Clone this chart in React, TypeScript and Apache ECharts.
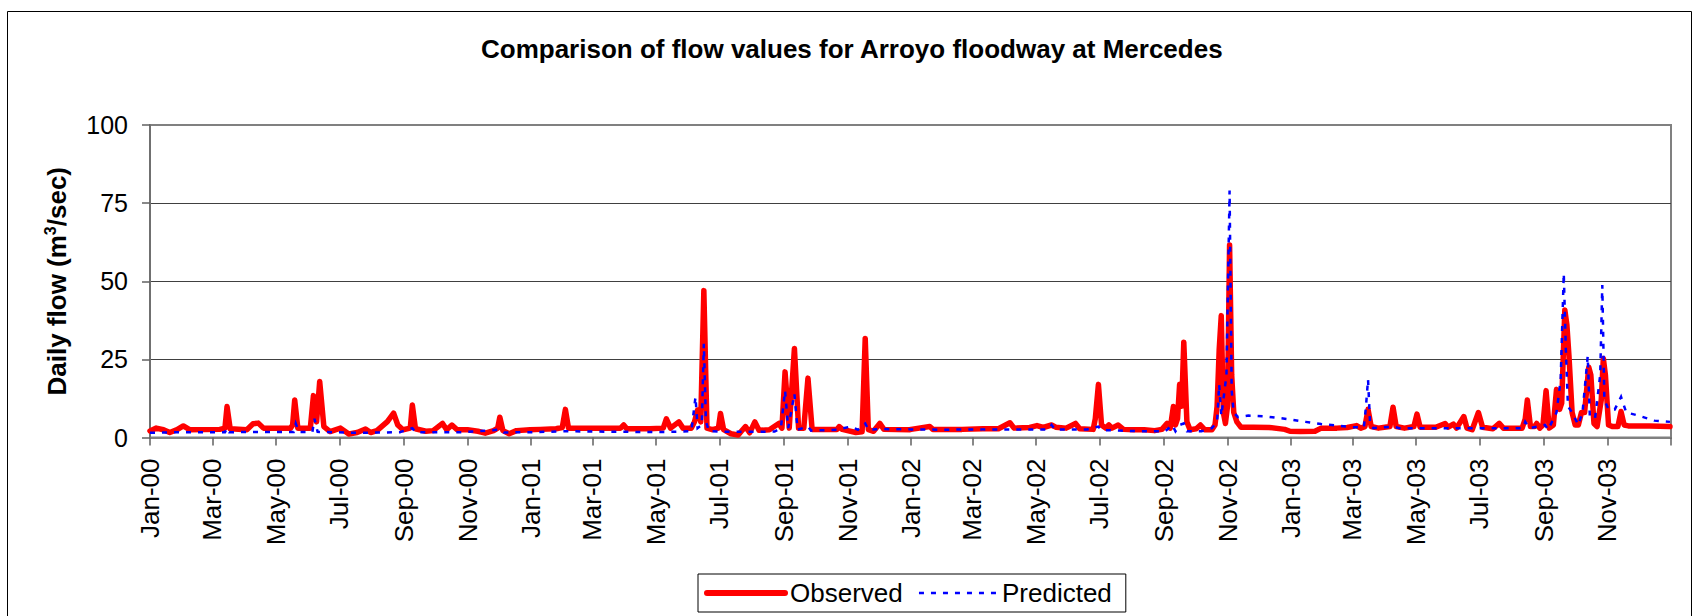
import React, { useEffect, useRef } from "react";
import * as echarts from "echarts";

// ---- Data ----
const TITLE = "Comparison of flow values for Arroyo floodway at Mercedes";
const SERIES_NAMES = ["Observed", "Predicted"];
const MONTHS = ["Jan", "Feb", "Mar", "Apr", "May", "Jun", "Jul", "Aug", "Sep", "Oct", "Nov", "Dec"];
const Y_TICKS = [0, 25, 50, 75, 100];

// Observed daily flow, [MM-DD, m3/s]
const obs2000: [string, number][] = [
  ["01-01", 2.1], ["01-07", 3], ["01-14", 2.5], ["01-20", 1.6], ["01-27", 2.5], ["02-02", 3.7], ["02-08", 2.5],
  ["03-08", 2.6], ["03-13", 3], ["03-15", 9.9], ["03-18", 2.8], ["04-03", 2.5], ["04-09", 4.4], ["04-14", 4.6],
  ["04-19", 3], ["05-15", 3], ["05-17", 4], ["05-19", 12], ["05-22", 3], ["06-03", 3], ["06-06", 13.4],
  ["06-09", 5], ["06-12", 17.9], ["06-16", 3.5], ["06-22", 1.9], ["07-02", 3], ["07-10", 1.1], ["07-18", 1.6],
  ["07-26", 2.7], ["07-31", 1.6], ["08-06", 2.2], ["08-16", 5.1], ["08-22", 7.8], ["08-26", 4], ["08-31", 2.5],
  ["09-07", 3], ["09-09", 10.4], ["09-12", 2.8], ["09-22", 2], ["09-29", 2.2], ["10-08", 4.5], ["10-12", 2.5],
  ["10-17", 4], ["10-22", 2.5], ["11-01", 2.5], ["11-11", 2], ["11-18", 1.4], ["11-26", 2.2], ["11-30", 3],
  ["12-02", 6.5], ["12-05", 2.2], ["12-11", 1.2], ["12-18", 2.2], ["12-31", 2.5],
];
const obs2001: [string, number][] = [
  ["01-10", 2.6], ["01-25", 2.8], ["01-31", 3.2], ["02-03", 9], ["02-06", 3], ["02-24", 3], ["03-16", 3],
  ["03-28", 3], ["03-31", 4], ["04-03", 2.8], ["04-25", 2.8], ["05-08", 3], ["05-11", 6], ["05-15", 3],
  ["05-23", 5], ["05-27", 3], ["06-04", 3], ["06-07", 5], ["06-10", 8.8], ["06-13", 5], ["06-16", 47],
  ["06-19", 3], ["06-24", 2.5], ["06-30", 3], ["07-02", 7.7], ["07-05", 2.5], ["07-12", 1.2], ["07-19", 0.8],
  ["07-22", 2], ["07-26", 3.5], ["07-30", 1.5], ["08-04", 5], ["08-08", 2.3], ["08-18", 2.5], ["08-27", 4.5],
  ["08-30", 3], ["09-02", 21], ["09-06", 3], ["09-11", 28.5], ["09-15", 3], ["09-20", 3], ["09-24", 19],
  ["09-28", 2.6], ["10-22", 2.6], ["10-24", 3.5], ["10-27", 2.6], ["11-09", 1.6], ["11-15", 1.8], ["11-18", 31.7],
  ["11-21", 2.5], ["11-26", 2], ["12-02", 4.5], ["12-06", 2.6], ["12-31", 2.5],
];
const obs2002: [string, number][] = [
  ["01-01", 2.6], ["01-19", 3.5], ["01-22", 2.6], ["02-19", 2.6], ["03-11", 2.8], ["03-26", 2.8], ["04-06", 4.7],
  ["04-10", 3], ["04-25", 3.2], ["05-02", 3.8], ["05-08", 3.2], ["05-16", 4], ["05-20", 3.3], ["05-30", 3],
  ["06-08", 4.5], ["06-12", 2.8], ["06-25", 2.6], ["06-27", 6], ["06-30", 17], ["07-03", 4], ["07-07", 3],
  ["07-10", 4], ["07-13", 3], ["07-19", 4], ["07-24", 2.6], ["08-03", 2.5], ["08-13", 2.5], ["08-23", 2.2],
  ["08-30", 2.6], ["09-04", 4.5], ["09-07", 3], ["09-10", 9.9], ["09-12", 4], ["09-14", 6], ["09-16", 17],
  ["09-18", 10], ["09-20", 30.5], ["09-23", 5], ["09-26", 2.5], ["10-02", 2.8], ["10-06", 4], ["10-10", 2.5],
  ["10-17", 2.5], ["10-20", 4], ["10-22", 10], ["10-24", 28], ["10-26", 39], ["10-28", 8], ["10-30", 4.5],
  ["11-01", 10], ["11-03", 61.6], ["11-05", 20], ["11-07", 8], ["11-10", 5], ["11-14", 3.3], ["11-26", 3.3],
  ["12-11", 3.2], ["12-26", 2.6], ["12-31", 2],
];
const obs2003: [string, number][] = [
  ["01-10", 1.9], ["01-24", 2], ["01-30", 3], ["02-14", 3], ["02-24", 3.2], ["03-05", 3.8], ["03-09", 3],
  ["03-13", 3.5], ["03-16", 9], ["03-19", 3.5], ["03-26", 3], ["04-06", 3.5], ["04-09", 9.7], ["04-12", 3.5],
  ["04-20", 3], ["04-29", 3.5], ["05-02", 7.5], ["05-05", 3.3], ["05-20", 3.3], ["05-29", 4.5], ["06-01", 3.3],
  ["06-06", 4.3], ["06-09", 3], ["06-16", 6.7], ["06-19", 3], ["06-24", 2.5], ["06-30", 8], ["07-04", 3.3],
  ["07-14", 2.8], ["07-20", 4.5], ["07-24", 3], ["08-03", 3], ["08-11", 3], ["08-14", 6], ["08-16", 12],
  ["08-19", 3.5], ["08-23", 3.5], ["08-25", 4.5], ["08-28", 3], ["08-31", 4], ["09-03", 15], ["09-06", 3],
  ["09-10", 4], ["09-13", 15.4], ["09-16", 9], ["09-18", 11], ["09-21", 40.8], ["09-23", 36], ["09-25", 26],
  ["09-28", 8], ["10-01", 4], ["10-04", 4], ["10-07", 8], ["10-10", 8], ["10-14", 22.5], ["10-16", 20],
  ["10-19", 4.5], ["10-22", 3.5], ["10-26", 12], ["10-28", 25.3], ["10-30", 20], ["11-02", 4], ["11-06", 3.5],
  ["11-11", 3.5], ["11-14", 8.3], ["11-17", 4], ["11-21", 3.7], ["12-11", 3.7], ["12-31", 3.5],
];

// Predicted daily flow, [MM-DD, m3/s]
const pred2000: [string, number][] = [
  ["01-01", 1.5], ["01-31", 1.7], ["03-13", 1.7], ["03-15", 3], ["03-17", 1.7], ["04-30", 1.8], ["05-18", 1.8],
  ["05-20", 4.5], ["05-23", 1.8], ["06-05", 1.8], ["06-07", 6], ["06-10", 1.8], ["07-19", 1.5], ["08-28", 1.7],
  ["09-09", 3], ["09-12", 1.7], ["10-27", 1.7], ["12-02", 2.5], ["12-06", 1.6], ["12-31", 1.7],
];
const pred2001: [string, number][] = [
  ["02-04", 2], ["04-05", 1.8], ["05-15", 1.8], ["06-04", 2], ["06-08", 13], ["06-10", 3], ["06-14", 4],
  ["06-16", 30], ["06-18", 5], ["06-21", 2], ["07-14", 1.8], ["08-23", 1.9], ["08-29", 3], ["09-02", 15],
  ["09-05", 3], ["09-11", 14], ["09-14", 2.5], ["09-24", 3.5], ["09-27", 2.2], ["10-22", 2.5], ["11-04", 3.5],
  ["11-11", 2.5], ["11-18", 4.5], ["11-21", 2.5], ["12-01", 2.7], ["12-31", 2.6],
];
const pred2002: [string, number][] = [
  ["01-01", 2.6], ["01-30", 2.5], ["03-11", 2.6], ["05-13", 2.6], ["05-16", 4], ["05-19", 2.6], ["06-19", 2.6],
  ["06-30", 3.5], ["07-03", 2.4], ["08-08", 2], ["09-02", 2], ["09-09", 4], ["09-12", 2], ["09-16", 4],
  ["09-20", 4.5], ["09-23", 2], ["10-07", 2], ["10-17", 3], ["10-22", 5], ["10-24", 17], ["10-26", 7],
  ["10-28", 12], ["10-31", 20], ["11-03", 79], ["11-05", 15], ["11-07", 8], ["11-11", 6.5], ["11-21", 7],
  ["12-06", 6.8], ["12-21", 6.2], ["12-31", 5.8],
];
const pred2003: [string, number][] = [
  ["01-15", 5], ["01-30", 4.3], ["02-14", 3.8], ["03-01", 3.3], ["03-12", 3.2], ["03-14", 10], ["03-16", 18.6],
  ["03-18", 4], ["03-21", 3], ["04-09", 3.5], ["04-15", 3], ["06-04", 3], ["07-04", 3], ["08-12", 3],
  ["08-14", 5], ["08-18", 3], ["09-02", 4], ["09-05", 2.5], ["09-13", 8], ["09-17", 18.4], ["09-20", 52.5],
  ["09-22", 28], ["09-24", 10], ["09-28", 8], ["10-04", 4], ["10-08", 8], ["10-13", 26], ["10-15", 7],
  ["10-20", 6], ["10-25", 20], ["10-27", 48.8], ["10-29", 12], ["11-02", 9], ["11-08", 9], ["11-14", 13],
  ["11-19", 8], ["12-01", 7], ["12-16", 5.4], ["12-31", 5],
];

const YEARS = [2000, 2001, 2002, 2003];
const LABEL_MONTHS = [0, 2, 4, 6, 8, 10];

const toTime = (year: number, md: string) => {
  const [m, d] = md.split("-").map(Number);
  return new Date(year, m - 1, d).getTime();
};
const withYear = (year: number, arr: [string, number][]) => arr.map(([md, v]) => [toTime(year, md), v]);

const observed = [
  ...withYear(2000, obs2000), ...withYear(2001, obs2001), ...withYear(2002, obs2002), ...withYear(2003, obs2003),
];
const predicted = [
  ...withYear(2000, pred2000), ...withYear(2001, pred2001), ...withYear(2002, pred2002), ...withYear(2003, pred2003),
];

const labelTimes: number[] = [];
YEARS.forEach((y) => LABEL_MONTHS.forEach((m) => labelTimes.push(new Date(y, m, 1).getTime())));
const X_MIN = new Date(2000, 0, 1).getTime();
const X_MAX = new Date(2004, 0, 1).getTime();
const tickTimes = [...labelTimes, X_MAX];

const FONT = "'Liberation Sans', Arial, sans-serif";

export default function App() {
  const ref = useRef<HTMLDivElement>(null);
  useEffect(() => {
    if (!ref.current) return;
    const chart = echarts.init(ref.current, undefined, { renderer: "svg" });
    chart.setOption({
      animation: false,
      backgroundColor: "#ffffff",
      textStyle: { fontFamily: FONT, color: "#000" },
      title: {
        text: TITLE,
        left: 481,
        top: 36,
        padding: 0,
        textStyle: { fontFamily: FONT, fontSize: 26, fontWeight: "bold", color: "#000" },
      },
      graphic: [
        {
          type: "rect",
          shape: { x: 7.5, y: 11.5, width: 1684, height: 700 },
          style: { fill: "none", stroke: "#000", lineWidth: 1 },
          silent: true,
        },
      ],
      grid: {
        left: 150,
        right: 30,
        top: 125,
        bottom: 178.5,
        show: true,
        borderColor: "#808080",
        borderWidth: 2,
        backgroundColor: "transparent",
      },
      legend: {
        left: 698,
        top: 574,
        orient: "horizontal",
        padding: [6, 14, 6, 6],
        itemGap: 15,
        itemWidth: 78,
        itemHeight: 14,
        borderColor: "#000",
        borderWidth: 1,
        backgroundColor: "#fff",
        textStyle: { fontFamily: FONT, fontSize: 26, color: "#000" },
        itemStyle: { opacity: 0 },
        data: [
          { name: SERIES_NAMES[0], lineStyle: { width: 6 } },
          { name: SERIES_NAMES[1], lineStyle: { width: 2.5 } },
        ],
      },
      xAxis: {
        type: "value",
        min: X_MIN,
        max: X_MAX,
        axisLine: { show: true, lineStyle: { color: "#808080", width: 2 } },
        axisTick: {
          show: true,
          inside: false,
          length: 8,
          customValues: tickTimes,
          lineStyle: { color: "#606060", width: 1.5 },
        },
        axisLabel: {
          show: true,
          rotate: 90,
          margin: 21,
          customValues: labelTimes,
          fontFamily: FONT,
          fontSize: 26,
          color: "#000",
          formatter: (val: number) => {
            const d = new Date(val);
            return `${MONTHS[d.getMonth()]}-${String(d.getFullYear() % 100).padStart(2, "0")}`;
          },
        },
        splitLine: { show: false },
      },
      yAxis: {
        type: "value",
        min: Y_TICKS[0],
        max: Y_TICKS[Y_TICKS.length - 1],
        interval: 25,
        name: "Daily flow (m{sup|3}/sec)",
        nameLocation: "middle",
        nameGap: 78,
        nameTextStyle: {
          fontFamily: FONT,
          fontSize: 26,
          fontWeight: "bold",
          color: "#000",
          lineHeight: 30,
          rich: {
            sup: { fontFamily: FONT, fontSize: 16, fontWeight: "bold", color: "#000", verticalAlign: "top", lineHeight: 30 },
          },
        },
        axisLine: { show: true, lineStyle: { color: "#707070", width: 2 } },
        axisTick: { show: true, inside: false, length: 8, lineStyle: { color: "#606060", width: 1.5 } },
        axisLabel: { fontFamily: FONT, fontSize: 25, color: "#000", margin: 22 },
        splitLine: {
          show: true,
          showMinLine: false,
          showMaxLine: false,
          lineStyle: { color: "#404040", width: 1 },
        },
      },
      series: [
        {
          name: SERIES_NAMES[0],
          type: "line",
          data: observed,
          symbol: "none",
          showSymbol: false,
          lineStyle: { color: "#FF0000", width: 5.5, cap: "round", join: "round" },
          itemStyle: { color: "#FF0000" },
          z: 2,
        },
        {
          name: SERIES_NAMES[1],
          type: "line",
          data: predicted,
          symbol: "none",
          showSymbol: false,
          lineStyle: { color: "#0000FF", width: 2.5, type: [5, 7], cap: "butt", join: "miter" },
          itemStyle: { color: "#0000FF" },
          z: 3,
        },
      ],
    });
    return () => chart.dispose();
  }, []);
  return <div ref={ref} style={{ position: "fixed", left: 0, top: 0, width: 1701, height: 616 }} />;
}
